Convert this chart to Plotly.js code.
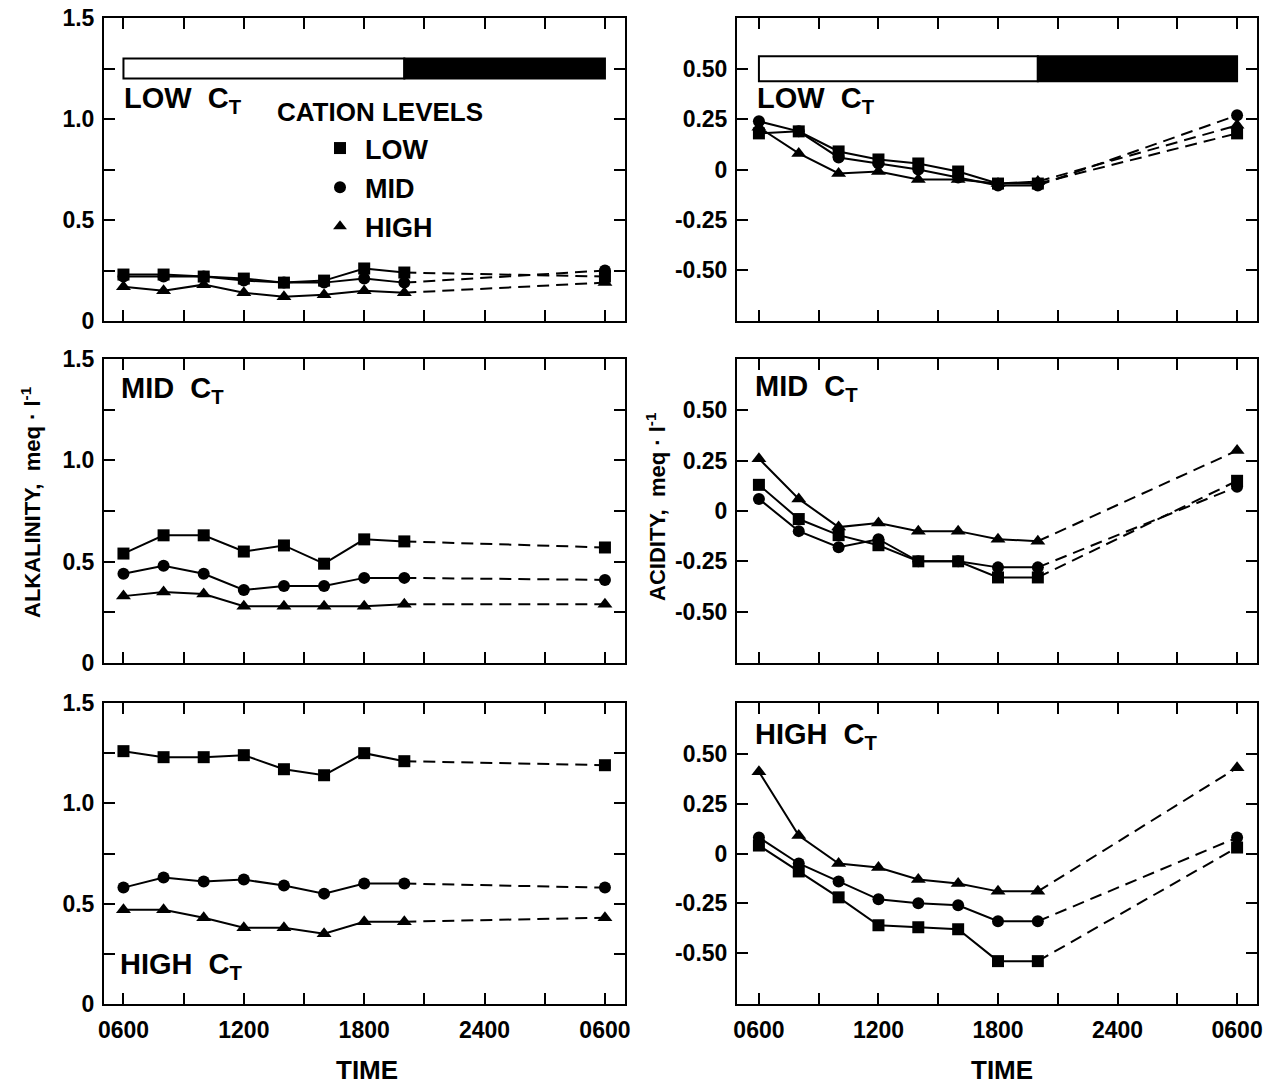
<!DOCTYPE html>
<html>
<head>
<meta charset="utf-8">
<script src="https://cdn.plot.ly/plotly-3.0.1.min.js"></script>
<style>html,body{margin:0;padding:0;background:#fff;}#chart{width:1277px;height:1087px;}</style>
</head>
<body>
<div id="chart"></div>
<script>
// ---- data ----
const times = [6, 8, 10, 12, 14, 16, 18, 20, 30];
const xTickVals = [6, 12, 18, 24, 30];
const xTickText = ['0600', '1200', '1800', '2400', '0600'];
const alkTickVals = [0, 0.5, 1.0, 1.5];
const alkTickText = ['0', '0.5', '1.0', '1.5'];
const acidTickVals = [-0.5, -0.25, 0, 0.25, 0.5];
const acidTickText = ['-0.50', '-0.25', '0', '0.25', '0.50'];
const cationLevels = ['LOW', 'MID', 'HIGH'];
const panelLabels = ['LOW', 'MID', 'HIGH'];

// alkalinity (meq/l), by CT level, by cation level
const alkLowCT_low  = [0.23, 0.23, 0.22, 0.21, 0.19, 0.20, 0.26, 0.24, 0.22];
const alkLowCT_mid  = [0.22, 0.22, 0.22, 0.20, 0.19, 0.19, 0.21, 0.19, 0.25];
const alkLowCT_high = [0.17, 0.15, 0.18, 0.14, 0.12, 0.13, 0.15, 0.14, 0.19];
const alkMidCT_low  = [0.54, 0.63, 0.63, 0.55, 0.58, 0.49, 0.61, 0.60, 0.57];
const alkMidCT_mid  = [0.44, 0.48, 0.44, 0.36, 0.38, 0.38, 0.42, 0.42, 0.41];
const alkMidCT_high = [0.33, 0.35, 0.34, 0.28, 0.28, 0.28, 0.28, 0.29, 0.29];
const alkHighCT_low  = [1.26, 1.23, 1.23, 1.24, 1.17, 1.14, 1.25, 1.21, 1.19];
const alkHighCT_mid  = [0.58, 0.63, 0.61, 0.62, 0.59, 0.55, 0.60, 0.60, 0.58];
const alkHighCT_high = [0.47, 0.47, 0.43, 0.38, 0.38, 0.35, 0.41, 0.41, 0.43];

// acidity (meq/l)
const acidLowCT_low  = [0.18, 0.19, 0.09, 0.05, 0.03, -0.01, -0.07, -0.07, 0.18];
const acidLowCT_mid  = [0.24, 0.19, 0.06, 0.03, 0.00, -0.04, -0.08, -0.08, 0.27];
const acidLowCT_high = [0.21, 0.08, -0.02, -0.01, -0.05, -0.05, -0.07, -0.06, 0.22];
const acidMidCT_low  = [0.13, -0.04, -0.12, -0.17, -0.25, -0.25, -0.33, -0.33, 0.15];
const acidMidCT_mid  = [0.06, -0.10, -0.18, -0.14, -0.25, -0.25, -0.28, -0.28, 0.12];
const acidMidCT_high = [0.26, 0.06, -0.08, -0.06, -0.10, -0.10, -0.14, -0.15, 0.30];
const acidHighCT_low  = [0.04, -0.09, -0.22, -0.36, -0.37, -0.38, -0.54, -0.54, 0.03];
const acidHighCT_mid  = [0.08, -0.05, -0.14, -0.23, -0.25, -0.26, -0.34, -0.34, 0.08];
const acidHighCT_high = [0.41, 0.09, -0.05, -0.07, -0.13, -0.15, -0.19, -0.19, 0.43];

// photoperiod bars (hours): light, dark
const lightPeriod = [6, 20];
const darkPeriod = [20, 30];
const alkBarY = [1.2, 1.3];
const acidBarY = [0.44, 0.565];

// ---- layout helpers ----
const W = 1277, H = 1087;
const px = v => v / W;
const py = v => 1 - v / H;
const FONT = '"Liberation Sans", Arial, sans-serif';
const symbols = ['square', 'circle', 'triangle-up'];

const panels = [
  {ax: 1, data: [alkLowCT_low, alkLowCT_mid, alkLowCT_high]},
  {ax: 2, data: [acidLowCT_low, acidLowCT_mid, acidLowCT_high]},
  {ax: 3, data: [alkMidCT_low, alkMidCT_mid, alkMidCT_high]},
  {ax: 4, data: [acidMidCT_low, acidMidCT_mid, acidMidCT_high]},
  {ax: 5, data: [alkHighCT_low, alkHighCT_mid, alkHighCT_high]},
  {ax: 6, data: [acidHighCT_low, acidHighCT_mid, acidHighCT_high]}
];

const traces = [];
panels.forEach(p => {
  const xa = 'x' + (p.ax === 1 ? '' : p.ax), ya = 'y' + (p.ax === 1 ? '' : p.ax);
  p.data.forEach((vals, i) => {
    const nSolid = times.length - 1;
    traces.push({x: times.slice(0, nSolid), y: vals.slice(0, nSolid), xaxis: xa, yaxis: ya,
      mode: 'lines', line: {color: '#000', width: 2}, showlegend: false, hoverinfo: 'skip'});
    traces.push({x: times.slice(nSolid - 1), y: vals.slice(nSolid - 1), xaxis: xa, yaxis: ya,
      mode: 'lines', line: {color: '#000', width: 2, dash: '12px,7px'}, showlegend: false, hoverinfo: 'skip'});
    traces.push({x: times, y: vals, xaxis: xa, yaxis: ya, mode: 'markers',
      name: cationLevels[i], legendgroup: cationLevels[i],
      marker: {symbol: symbols[i], color: '#000', size: i === 2 ? 13 : 12, line: {width: 0}},
      showlegend: p.ax === 1});
  });
});

const layout = {
  width: W, height: H,
  margin: {l: 0, r: 0, t: 0, b: 0},
  paper_bgcolor: '#fff', plot_bgcolor: '#fff',
  font: {family: FONT, size: 24, color: '#000', weight: 'bold'},
  showlegend: true,
  legend: {x: px(315), y: py(124), xanchor: 'left', yanchor: 'top', bgcolor: 'rgba(0,0,0,0)',
    font: {family: FONT, size: 27, color: '#000', weight: 'bold'}, itemsizing: 'constant',
    traceorder: 'grouped', tracegroupgap: 1, itemwidth: 40},
  shapes: [],
  annotations: []
};

const colX = [[104, 625], [737, 1257]];
const rowY = [[18, 321], [359, 663], [703, 1004]];
for (let k = 1; k <= 6; k++) {
  const col = (k - 1) % 2, row = Math.floor((k - 1) / 2);
  const isAlk = col === 0;
  const tickStyle = {ticks: 'inside', ticklen: 11, tickwidth: 2, tickcolor: '#000'};
  const axCommon = Object.assign({showgrid: false, zeroline: false, showline: true, linecolor: '#000', linewidth: 2,
    mirror: 'ticks', tickfont: {family: FONT, size: 23, color: '#000', weight: 'bold'}, fixedrange: true}, tickStyle);
  layout['xaxis' + (k === 1 ? '' : k)] = Object.assign({}, axCommon, {
    domain: [px(colX[col][0]), px(colX[col][1])],
    range: isAlk ? [5.03, 31.0] : [4.9, 31.0],
    anchor: 'y' + (k === 1 ? '' : k),
    tickmode: 'array', tickvals: xTickVals, ticktext: xTickText,
    minor: Object.assign({tick0: 6, dtick: 3, showgrid: false}, tickStyle),
    showticklabels: row === 2, ticklabelstandoff: 4
  });
  layout['yaxis' + (k === 1 ? '' : k)] = Object.assign({}, axCommon, {
    domain: [py(rowY[row][1]), py(rowY[row][0])],
    range: isAlk ? [0, 1.5] : [-0.755, 0.755],
    anchor: 'x' + (k === 1 ? '' : k),
    tickmode: 'array', tickvals: isAlk ? alkTickVals : acidTickVals,
    ticktext: isAlk ? alkTickText : acidTickText, ticklabelstandoff: 3,
    minor: isAlk ? Object.assign({tick0: 0, dtick: 0.25, showgrid: false}, tickStyle) : undefined
  });
}

// photoperiod bars in top row
[[1, alkBarY], [2, acidBarY]].forEach(([k, by]) => {
  const xr = 'x' + (k === 1 ? '' : k), yr = 'y' + (k === 1 ? '' : k);
  layout.shapes.push({type: 'rect', xref: xr, yref: yr, x0: lightPeriod[0], x1: lightPeriod[1], y0: by[0], y1: by[1],
    fillcolor: '#fff', line: {color: '#000', width: 2}});
  layout.shapes.push({type: 'rect', xref: xr, yref: yr, x0: darkPeriod[0], x1: darkPeriod[1], y0: by[0], y1: by[1],
    fillcolor: '#000', line: {color: '#000', width: 2}});
});

// panel labels
const labelPos = [[122, 100], [755, 100], [119, 390], [753, 388], [118, 966], [753, 736]];
labelPos.forEach((pos, k) => {
  layout.annotations.push({xref: 'paper', yref: 'paper', x: px(pos[0]), y: py(pos[1]), xanchor: 'left', yanchor: 'middle',
    showarrow: false, text: panelLabels[Math.floor(k / 2)] + '  C<sub>T</sub>',
    font: {family: FONT, size: 29, color: '#000', weight: 'bold'}});
});

layout.annotations.push({xref: 'paper', yref: 'paper', x: px(275), y: py(112), xanchor: 'left', yanchor: 'middle',
  showarrow: false, text: 'CATION LEVELS', font: {family: FONT, size: 26, color: '#000', weight: 'bold'}});

layout.annotations.push({xref: 'paper', yref: 'paper', x: px(31), y: py(502), xanchor: 'center', yanchor: 'middle',
  showarrow: false, textangle: -90, text: 'ALKALINITY,  meq · l<sup>-1</sup>',
  font: {family: FONT, size: 22, color: '#000', weight: 'bold'}});
layout.annotations.push({xref: 'paper', yref: 'paper', x: px(656), y: py(507), xanchor: 'center', yanchor: 'middle',
  showarrow: false, textangle: -90, text: 'ACIDITY,  meq · l<sup>-1</sup>',
  font: {family: FONT, size: 22, color: '#000', weight: 'bold'}});

layout.annotations.push({xref: 'paper', yref: 'paper', x: px(367), y: py(1070), xanchor: 'center', yanchor: 'middle',
  showarrow: false, text: 'TIME', font: {family: FONT, size: 26, color: '#000', weight: 'bold'}});
layout.annotations.push({xref: 'paper', yref: 'paper', x: px(1002), y: py(1070), xanchor: 'center', yanchor: 'middle',
  showarrow: false, text: 'TIME', font: {family: FONT, size: 26, color: '#000', weight: 'bold'}});

Plotly.newPlot('chart', traces, layout, {displayModeBar: false, staticPlot: true});
</script>
</body>
</html>
